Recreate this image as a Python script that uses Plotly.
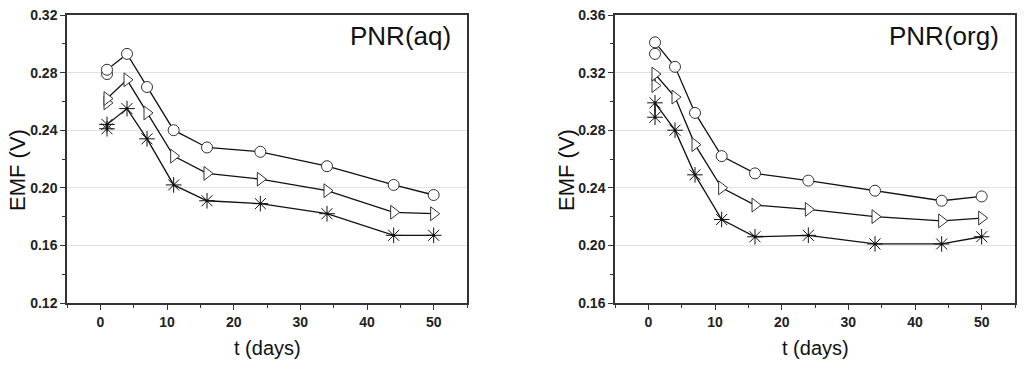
import plotly.graph_objects as go

# ---- data ----
t_days = [1, 1, 4, 7, 11, 16, 24, 34, 44, 50]

aq_circle   = [0.279, 0.282, 0.293, 0.270, 0.240, 0.228, 0.225, 0.215, 0.202, 0.195]
aq_triangle = [0.259, 0.262, 0.275, 0.252, 0.222, 0.210, 0.206, 0.198, 0.183, 0.182]
aq_star     = [0.241, 0.244, 0.255, 0.234, 0.202, 0.191, 0.189, 0.182, 0.167, 0.167]

org_circle   = [0.333, 0.341, 0.324, 0.292, 0.262, 0.250, 0.245, 0.238, 0.231, 0.234]
org_triangle = [0.311, 0.319, 0.303, 0.270, 0.240, 0.228, 0.225, 0.220, 0.217, 0.219]
org_star     = [0.289, 0.299, 0.280, 0.249, 0.218, 0.206, 0.207, 0.201, 0.201, 0.206]

x_ticks = [0, 10, 20, 30, 40, 50]
aq_yticks = [0.12, 0.16, 0.20, 0.24, 0.28, 0.32]
org_yticks = [0.16, 0.20, 0.24, 0.28, 0.32, 0.36]

panel_titles = ["PNR(aq)", "PNR(org)"]
x_title = "t (days)"
y_title = "EMF (V)"

FONT = "Liberation Sans, Arial, sans-serif"
W, H = 1024, 369

fig = go.Figure()

def add_series(xa, ya, circ, tri, star):
    common = dict(x=t_days, xaxis=xa, yaxis=ya, mode="lines+markers", showlegend=False,
                  line=dict(color="#111", width=1.3), hoverinfo="x+y")
    fig.add_trace(go.Scatter(y=circ, marker=dict(symbol="circle", size=11, color="white",
                                                 line=dict(color="#333", width=1)), **common))
    fig.add_trace(go.Scatter(y=tri, marker=dict(symbol="triangle-right", size=12, color="white",
                                                line=dict(color="#333", width=1)), **common))
    fig.add_trace(go.Scatter(y=star, marker=dict(symbol="asterisk-open", size=13,
                                                 line=dict(color="#333", width=1)), **common))
    fig.add_trace(go.Scatter(x=t_days, y=star, xaxis=xa, yaxis=ya, mode="markers", showlegend=False,
                             marker=dict(symbol="circle", size=3, color="#111"), hoverinfo="skip"))

add_series("x", "y", aq_circle, aq_triangle, aq_star)
add_series("x2", "y2", org_circle, org_triangle, org_star)

axis_common = dict(showline=True, linecolor="#333", linewidth=1.5, mirror=True,
                   ticks="outside", ticklen=5, tickwidth=1.2, tickcolor="#333",
                   tickfont=dict(family=FONT, size=14, color="#222"),
                   zeroline=False)

xdom1 = [67 / W, 467 / W]
xdom2 = [615 / W, 1015 / W]

xa = dict(range=[-5, 55], tickvals=x_ticks, ticktext=[f"<b>{v}</b>" for v in x_ticks],
          showgrid=False,
          minor=dict(dtick=5, tick0=0, ticks="outside", ticklen=3, tickcolor="#333", showgrid=False),
          **axis_common)
def ya(vals):
    return dict(range=[vals[0], vals[-1]], tickvals=vals,
                ticktext=[f"<b>{v:.2f}</b>" for v in vals],
                showgrid=True, gridcolor="#e2e2e2", gridwidth=1,
                minor=dict(dtick=0.02, tick0=0, ticks="outside", ticklen=3, tickcolor="#333",
                           showgrid=False),
                **axis_common)

fig.update_layout(
    width=W, height=H,
    margin=dict(l=0, r=0, t=15, b=66),
    paper_bgcolor="white", plot_bgcolor="white",
    xaxis=dict(domain=xdom1, anchor="y", **xa),
    yaxis=dict(domain=[0, 1], anchor="x", **ya(aq_yticks)),
    xaxis2=dict(domain=xdom2, anchor="y2", **xa),
    yaxis2=dict(domain=[0, 1], anchor="x2", **ya(org_yticks)),
)

for dom, title, xl in [(xdom1, panel_titles[0], 17), (xdom2, panel_titles[1], 566)]:
    fig.add_annotation(xref="paper", yref="paper", x=dom[1] - 14 / W, y=1 - 4 / 288,
                       xanchor="right", yanchor="top", text=title, showarrow=False,
                       font=dict(family=FONT, size=26, color="#111"))
    fig.add_annotation(xref="paper", yref="paper", x=(dom[0] + dom[1]) / 2, y=-(348 - 303) / 288,
                       xanchor="center", yanchor="middle", text=x_title, showarrow=False,
                       font=dict(family=FONT, size=20, color="#111"))
    fig.add_annotation(xref="paper", yref="paper", x=xl / W, y=1 - (170 - 15) / 288,
                       xanchor="center", yanchor="middle", text=y_title, textangle=-90,
                       showarrow=False, font=dict(family=FONT, size=22, color="#111"))

fig.write_html("out.html", config={"displayModeBar": False},
               post_script="document.body.style.margin='0';document.body.style.padding='0';")
